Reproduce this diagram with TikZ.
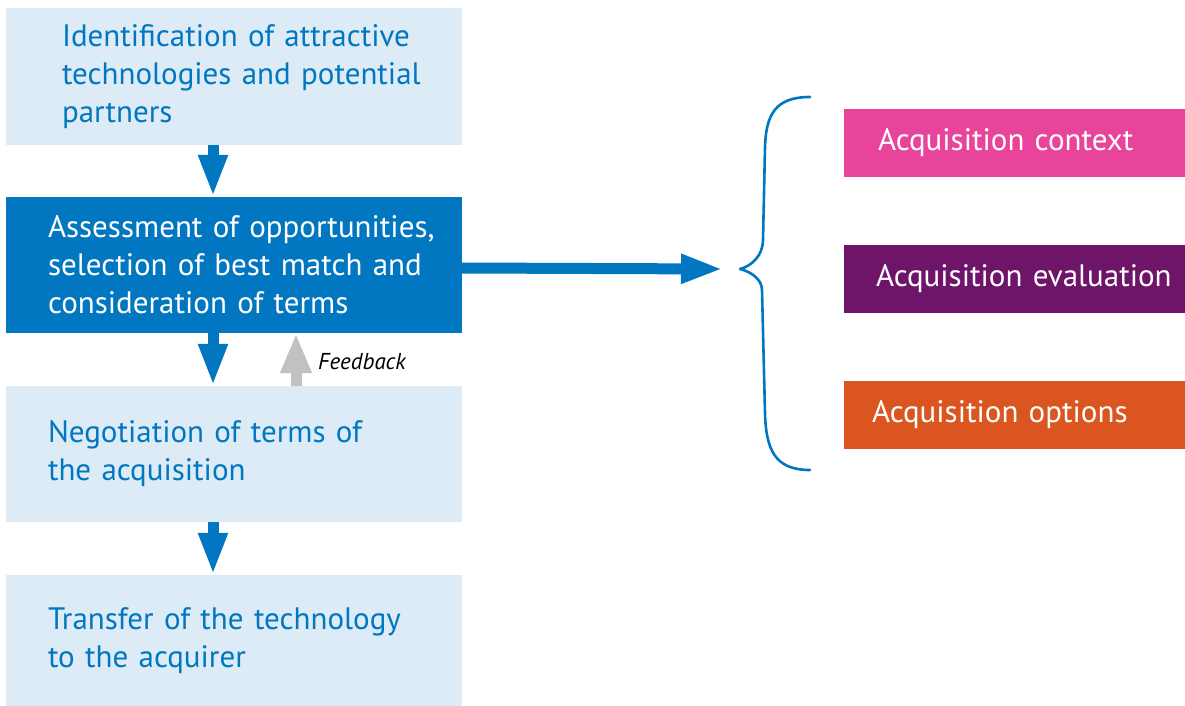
\documentclass[tikz,border=0pt]{standalone}
\usepackage{fontspec}
\setmainfont{PT Sans}
\usetikzlibrary{arrows.meta}
\definecolor{lightbox}{HTML}{DCEBF6}
\definecolor{mainblue}{HTML}{0077C0}
\definecolor{pinkbox}{HTML}{E8449B}
\definecolor{purplebox}{HTML}{6E1469}
\definecolor{orangebox}{HTML}{DA551F}
\definecolor{fbgray}{HTML}{C1C1C1}
\tikzset{
  stepbox/.style={rectangle, fill=lightbox, text=mainblue, align=left,
     font=\fontsize{31}{38}\selectfont, inner ysep=0pt, inner xsep=#1, text width=456pt-2*#1, anchor=center},
  catbox/.style={rectangle, minimum height=68pt, text=white, align=left,
     font=\fontsize{31}{34}\selectfont, inner ysep=0pt, inner xsep=#1, text width=341pt-2*#1},
  flowarrow/.style={draw=mainblue, line width=11pt, -{Triangle[width=27pt,length=42pt]}},
  fbarrow/.style={draw=fbgray, line width=11pt, -{Triangle[width=29pt,length=40pt]}},
}
\begin{document}
\begin{tikzpicture}[x=1pt,y=-1pt]
\useasboundingbox (0,0) rectangle (1185,706);
\node[stepbox=56pt, minimum height=137pt] (b1) at (234,76.5)
  {\mbox{Identification of attractive}\\\mbox{technologies and potential}\\\mbox{partners}};
\node[stepbox=42pt, minimum height=136pt, fill=mainblue, text=white] (b2) at (234,265)
  {\mbox{Assessment of opportunities,}\\\mbox{selection of best match and}\\\mbox{consideration of terms}};
\node[stepbox=42pt, minimum height=136pt] (b3) at (234,454)
  {\mbox{Negotiation of terms of}\\\mbox{the acquisition}};
\node[stepbox=42pt, minimum height=131pt] (b4) at (234,640.5)
  {\mbox{Transfer of the technology}\\\mbox{to the acquirer}};

\draw[flowarrow] ([xshift=-21pt]b1.south) -- ([xshift=-21pt]b2.north);
\draw[flowarrow] ([xshift=-21pt]b2.south) -- ([xshift=-21pt]b3.north);
\draw[flowarrow] ([xshift=-21pt]b3.south) -- ([xshift=-21pt]b4.north);
\draw[fbarrow] ([xshift=62pt]b3.north) -- ([xshift=62pt]b2.south);
\node[anchor=west, font=\fontsize{23}{26}\selectfont\itshape, inner sep=0pt] (fb) at (318,362) {Feedback};

\coordinate (bt) at (740,269);
\coordinate (btop) at (810,97);
\coordinate (bbot) at (810,470);
\draw[mainblue, line width=2.6pt, line cap=round, line join=round]
  (btop) .. controls (775,97) and (766,115) .. (765,147)
  -- (763,240) .. controls (763,255) and (752,266) .. (bt)
  .. controls (752,272) and (762,280) .. (762,290)
  -- (765,413) .. controls (766,450) and (775,470) .. (bbot);
\draw[flowarrow] (b2.east |- 0,268) -- ([xshift=-17pt]bt);

\node[catbox=34pt, fill=pinkbox] (c1) at (1014.5,143) {\mbox{Acquisition context}};
\node[catbox=32pt, fill=purplebox] (c2) at (1014.5,279) {\mbox{Acquisition evaluation}};
\node[catbox=28pt, fill=orangebox] (c3) at (1014.5,415) {\mbox{Acquisition options}};
\end{tikzpicture}
\end{document}
